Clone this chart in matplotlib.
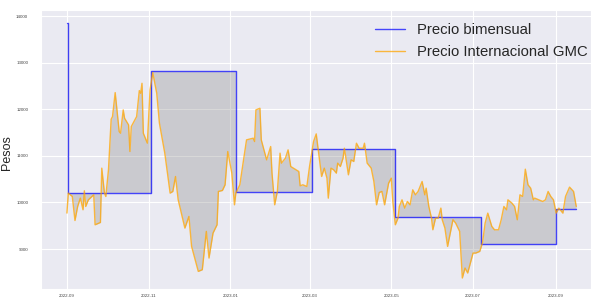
import numpy as np
import pandas as pd
import matplotlib
matplotlib.use("Agg")
import matplotlib.pyplot as plt
import matplotlib.dates as mdates
import seaborn as sns

# ---- data ----
start = "2022-09-01"
price_days = [0, 1, 4, 6, 8, 10, 12, 13, 14, 16, 20, 21, 25, 26, 28, 29, 31, 33, 34, 36,
              39, 40, 42, 43, 46, 47, 48, 52, 54, 55, 56, 57, 60, 62, 64, 67, 69, 73, 77, 79,
              81, 83, 88, 91, 93, 98, 101, 104, 106, 109, 112, 113, 116, 118, 120, 123, 125, 126, 129, 132,
              134, 139, 140, 141, 144, 145, 149, 152, 153, 155, 157, 159, 160, 163, 165, 167, 169, 173, 174, 176,
              179, 181, 184, 186, 189, 190, 192, 194, 195, 197, 199, 201, 202, 204, 206, 207, 210, 212, 214, 216,
              218, 221, 222, 224, 227, 229, 231, 233, 235, 237, 240, 242, 243, 245, 247, 248, 250, 252, 254, 256,
              258, 260, 262, 265, 267, 268, 270, 272, 273, 275, 277, 279, 280, 282, 284, 286, 288, 290, 293, 295,
              297, 299, 301, 303, 305, 308, 310, 312, 314, 317, 319, 322, 324, 326, 328, 329, 332, 334, 336, 338,
              340, 342, 344, 346, 348, 349, 352, 355, 357, 359, 361, 363, 365, 367, 370, 372, 375, 378, 380]
price_gmc = [9772, 10200, 10128, 9613, 9914, 10093, 9843, 10250, 9914, 10057, 10164, 9521, 9571, 10736, 10200, 10128, 10700, 11786, 11842, 12357,
             11520, 11486, 11986, 11807, 11664, 11093, 11628, 11842, 12400, 12343, 12557, 11486, 11272, 12414, 12786, 12343, 11700, 11058, 10200, 10236,
             10557, 10057, 9450, 9700, 9057, 8521, 8557, 9379, 8807, 9343, 9521, 10236, 10257, 10379, 11093, 10629, 9950, 10200, 10379, 10950,
             11343, 11379, 11307, 11986, 12021, 11343, 10914, 11200, 10629, 9950, 10236, 11058, 10843, 10950, 11129, 10771, 10736, 10664, 10357, 10379,
             10343, 10771, 11307, 11471, 10771, 10557, 10736, 10521, 10093, 10736, 10700, 10629, 10843, 10771, 10950, 11164, 10593, 10914, 10879, 11271,
             11164, 11164, 11271, 10843, 10736, 10450, 9950, 10214, 10236, 9950, 10414, 10521, 10057, 9521, 9664, 9914, 10057, 9879, 10021, 9950,
             10271, 10164, 10236, 10450, 10164, 10307, 9914, 9664, 9414, 9664, 9664, 9879, 9629, 9450, 9057, 9343, 9629, 9557, 9379, 8379,
             8593, 8486, 8700, 8914, 8914, 8950, 9129, 9557, 9771, 9486, 9414, 9414, 9629, 9914, 9843, 10057, 9986, 9914, 9629, 10164,
             10129, 10714, 10379, 10307, 10057, 10093, 10057, 10021, 10057, 10236, 10129, 10057, 9771, 9879, 9771, 10129, 10329, 10236, 9914]

step_days = [0, 1, 63, 126, 183, 245, 309, 365, 380]
step_price = [13850, 10210, 12820, 10230, 11150, 9680, 9110, 9870, 9870]

x_tick_fmt = "%Y-%m"
label_y = "Pesos"
label_step = "Precio bimensual"
label_gmc = "Precio Internacional GMC"

# ---- build ----
t0 = pd.Timestamp(start)
pdates = t0 + pd.to_timedelta(price_days, unit="D")
sdates = t0 + pd.to_timedelta(step_days, unit="D")

sd = np.array(step_days, dtype=float)
sp = np.array(step_price, dtype=float)
pd_arr = np.array(price_days, dtype=float)
pv_arr = np.array(price_gmc, dtype=float)

# fill geometry: price points plus the step boundaries (both sides of each jump)
eps = 1e-3
fx = np.unique(np.concatenate([pd_arr, sd[1:], sd[1:] - eps]))
fx = fx[(fx >= pd_arr[0]) & (fx <= pd_arr[-1])]
f_price = np.interp(fx, pd_arr, pv_arr)
f_step = sp[np.searchsorted(sd, fx, side="right") - 1]
fdates = t0 + pd.to_timedelta(fx, unit="D")

sns.set_style("darkgrid")
plt.rcParams["font.family"] = ["Liberation Sans", "DejaVu Sans"]

fig = plt.figure(figsize=(5.91, 2.97), dpi=100)
ax = fig.add_axes([0.0688, 0.028, 0.9312, 0.9383])

ax.fill_between(fdates, f_price, f_step, color="gray", alpha=0.3, linewidth=0)
ax.plot(sdates, step_price, drawstyle="steps-post", color="blue", alpha=0.7,
        linewidth=1.0, label=label_step)
ax.plot(pdates, price_gmc, color="orange", alpha=0.75, linewidth=1.0, label=label_gmc)

ax.set_xlim(t0 - pd.Timedelta(days=19.6), t0 + pd.Timedelta(days=391))
ax.set_ylim(8150, 14129)
ax.set_yticks([9000, 10000, 11000, 12000, 13000, 14000])
ax.xaxis.set_major_locator(mdates.MonthLocator(bymonth=[1, 3, 5, 7, 9, 11]))
ax.xaxis.set_major_formatter(mdates.DateFormatter(x_tick_fmt))
ax.tick_params(axis="both", labelsize=3.2, colors="#444444")
ax.tick_params(axis="y", pad=5.5)
ax.tick_params(axis="x", pad=0.3)
ax.set_ylabel(label_y, fontsize=9.0)
ax.yaxis.set_label_coords(-0.05, 0.49)

leg = ax.legend(loc="upper right", bbox_to_anchor=(1.018, 1.0), fontsize=10.7,
                frameon=False, handlelength=2.0)

fig.savefig("out.png", dpi=100)
